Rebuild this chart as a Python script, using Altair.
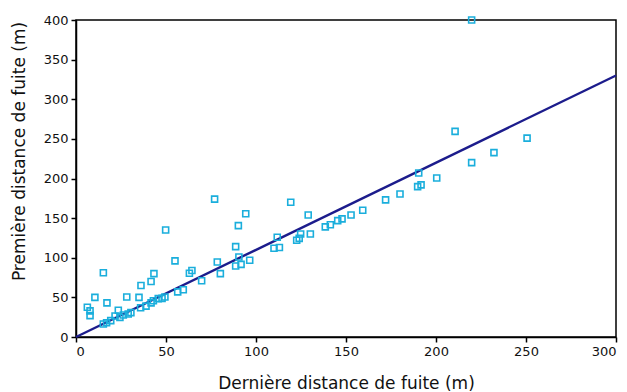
import altair as alt
import pandas as pd

derniere = [6.3, 7.8, 7.8, 10.5, 15.2, 17.2, 15.2, 17.0, 19.3, 21.7, 23.5, 24.4, 26.3, 28.2, 29.0,
            30.5, 35.0, 36.1, 35.9, 38.9, 41.7, 43.3, 41.7, 43.0, 45.7, 47.8, 49.4, 49.8, 55.0, 56.5,
            59.6, 63.0, 64.4, 69.8, 77.0, 78.5, 80.2, 88.7, 90.2, 94.3, 90.5, 88.7, 91.7, 96.5, 111.8,
            110.0, 113.0, 119.3, 129.0, 122.6, 124.0, 124.8, 130.2, 138.5, 141.3, 145.4, 147.8, 152.8,
            159.3, 172.0, 180.0, 190.4, 189.8, 191.7, 200.4, 210.6, 219.8, 232.2, 250.6, 219.8]
premiere = [37.5, 33.0, 27.0, 50.0, 81.0, 43.0, 16.4, 18.0, 20.6, 26.5, 33.7, 24.8, 27.8, 50.5, 29.0,
            30.7, 50.0, 65.0, 37.0, 39.0, 70.0, 80.0, 43.0, 45.8, 48.4, 48.8, 50.5, 135.0, 96.0, 57.0,
            59.7, 80.4, 84.0, 71.0, 174.0, 94.6, 80.0, 114.0, 140.5, 155.6, 101.0, 89.6, 91.7, 96.8, 125.8,
            112.0, 113.0, 170.0, 154.0, 122.0, 124.5, 130.0, 130.0, 139.0, 141.7, 146.8, 149.0, 154.0,
            160.0, 173.0, 180.4, 207.0, 189.7, 192.0, 200.6, 259.5, 220.0, 232.6, 251.0, 400.0]

line_x = [0, 300]
line_y = [0, 330]
x_ticks = [0, 50, 100, 150, 200, 250, 300]
y_ticks = [0, 50, 100, 150, 200, 250, 300, 350, 400]

pts = pd.DataFrame({"x": derniere, "y": premiere})
ln = pd.DataFrame({"x": line_x, "y": line_y})

FONT = "DejaVu Sans"

xscale = alt.Scale(domain=[0, 300], nice=False)
yscale = alt.Scale(domain=[0, 400], nice=False)

xaxis = alt.Axis(title="Dernière distance de fuite (m)", values=x_ticks, labelOverlap=False,
                 grid=False, titleY=46, titleBaseline="middle")
yaxis = alt.Axis(title="Première distance de fuite (m)", values=y_ticks, labelOverlap=False,
                 grid=False, titleX=-57, titleY=131, titleBaseline="middle", titleAlign="center")

points = alt.Chart(pts).mark_point(shape="square", filled=False, size=36, strokeWidth=1.6,
                                   color="#1aaedc", opacity=1).encode(
    x=alt.X("x:Q", scale=xscale, axis=xaxis),
    y=alt.Y("y:Q", scale=yscale, axis=yaxis),
)

line = alt.Chart(ln).mark_line(color="#1c1c8c", strokeWidth=2.4).encode(
    x=alt.X("x:Q", scale=xscale, axis=xaxis),
    y=alt.Y("y:Q", scale=yscale, axis=yaxis),
)

chart = alt.layer(line, points).properties(
    width=540, height=317,
    autosize=alt.AutoSizeParams(type="none"),
    padding={"left": 68, "top": 12, "right": 3, "bottom": 60},
    background="white",
).configure_view(stroke="black", strokeWidth=1.5).configure_axis(
    domainColor="black", domainWidth=1.5, tickColor="black", tickWidth=1.5, tickSize=5,
    labelFont=FONT, labelFontSize=13, labelColor="#111", labelPadding=3,
    titleFont=FONT, titleFontSize=17, titleFontWeight="normal", titleColor="#111",
)

chart.save("out.html", embed_options={"renderer": "svg", "actions": False})
